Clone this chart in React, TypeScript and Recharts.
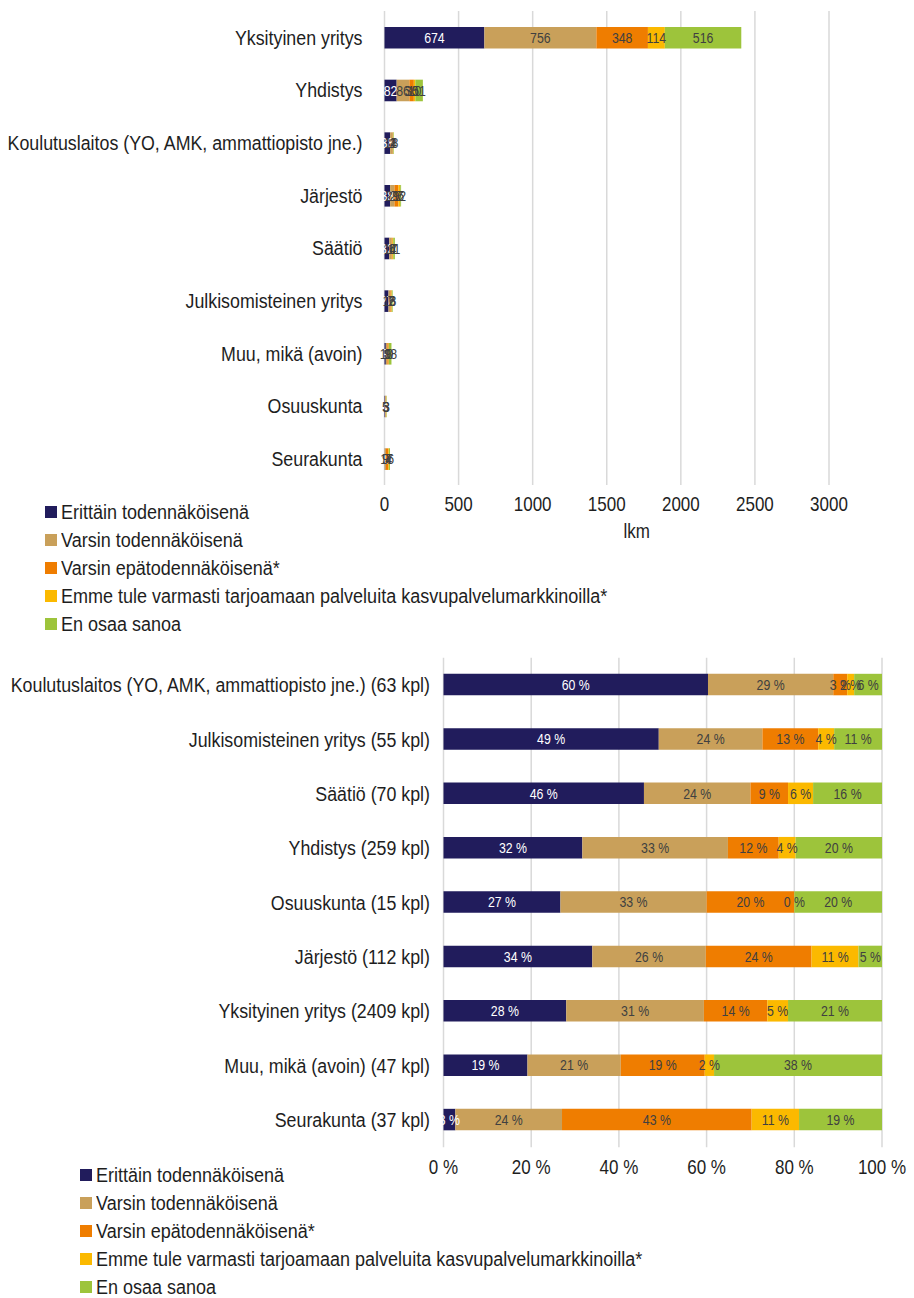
import React from 'react'
import { BarChart, Bar, XAxis, YAxis, CartesianGrid, LabelList, Legend } from 'recharts'

// Arial-metric font squeezed horizontally to get a narrow face
const FONT = "'Liberation Sans', Arial, sans-serif"
const SQUEEZE = 0.85
const TEXT = '#1e1e1e'

// organisations, in the order of the count chart
const organisations = [
  'Yksityinen yritys',
  'Yhdistys',
  'Koulutuslaitos (YO, AMK, ammattiopisto jne.)',
  'Järjestö',
  'Säätiö',
  'Julkisomisteinen yritys',
  'Muu, mikä (avoin)',
  'Osuuskunta',
  'Seurakunta',
]

// answer counts per organisation
const erittainTod = [674, 82, 38, 38, 32, 27, 9, 4, 1]
const varsinTod = [756, 86, 18, 29, 17, 13, 10, 5, 9]
const varsinEpatod = [348, 30, 2, 27, 6, 7, 9, 3, 16]
const emmeTule = [114, 10, 1, 12, 4, 2, 1, 0, 4]
const enOsaa = [516, 51, 4, 6, 11, 6, 18, 3, 7]

const seriesNames = [
  'Erittäin todennäköisenä',
  'Varsin todennäköisenä',
  'Varsin epätodennäköisenä*',
  'Emme tule varmasti tarjoamaan palveluita kasvupalvelumarkkinoilla*',
  'En osaa sanoa',
]
const seriesColors = ['#211c5c', '#c9a05a', '#ef7d00', '#fbb900', '#9dc43b']
const labelColors = ['#ffffff', '#404040', '#404040', '#404040', '#404040']

const countTicks = [0, 500, 1000, 1500, 2000, 2500, 3000]
const shareTicks = [0, 0.2, 0.4, 0.6, 0.8, 1]

// share chart: row order (indexes into organisations) and its labels
const shareOrder = [2, 5, 4, 1, 7, 3, 0, 6, 8]
const shareLabels = [
  'Koulutuslaitos (YO, AMK, ammattiopisto jne.) (63 kpl)',
  'Julkisomisteinen yritys (55 kpl)',
  'Säätiö (70 kpl)',
  'Yhdistys (259 kpl)',
  'Osuuskunta (15 kpl)',
  'Järjestö (112 kpl)',
  'Yksityinen yritys (2409 kpl)',
  'Muu, mikä (avoin) (47 kpl)',
  'Seurakunta (37 kpl)',
]

const seriesCounts = [erittainTod, varsinTod, varsinEpatod, emmeTule, enOsaa]
const keys = ['s0', 's1', 's2', 's3', 's4']

const countData = organisations.map((name, i) => {
  const row: Record<string, string | number> = { name }
  seriesCounts.forEach((arr, k) => {
    row[keys[k]] = arr[i]
  })
  return row
})

const shareData = shareOrder.map((i, r) => {
  const total = seriesCounts.reduce((sum, arr) => sum + arr[i], 0)
  const row: Record<string, string | number> = { name: shareLabels[r] }
  seriesCounts.forEach((arr, k) => {
    row[keys[k]] = arr[i] / total
  })
  return row
})

const pct = (v: number) => `${Math.round(v * 100)} %`

function NarrowText(props: any) {
  const { x, y, anchor, size, fill, dy = '0.36em', squeeze = SQUEEZE, children } = props
  return (
    <text
      transform={`translate(${x},${y}) scale(${squeeze},1)`}
      textAnchor={anchor}
      dy={dy}
      fontFamily={FONT}
      fontSize={size}
      fill={fill}
    >
      {children}
    </text>
  )
}

function CategoryTick(props: any) {
  const { x, y, payload } = props
  return (
    <NarrowText x={x} y={y} anchor="end" size={20} fill={TEXT} squeeze={0.89}>
      {payload.value}
    </NarrowText>
  )
}

function ValueTick(props: any) {
  const { x, y, payload, format } = props
  return (
    <NarrowText x={x} y={y} anchor="middle" size={20} fill={TEXT} dy="0.71em">
      {format ? format(payload.value) : payload.value}
    </NarrowText>
  )
}

function AxisTitle(props: any) {
  const { viewBox } = props
  return (
    <NarrowText x={viewBox.x + viewBox.width / 2 + 30} y={viewBox.y + 46} anchor="middle" size={20} fill={TEXT}>
      lkm
    </NarrowText>
  )
}

function segmentLabel(color: string, format: (v: number) => string) {
  return (props: any) => {
    const box = props.viewBox && props.viewBox.width !== undefined ? props.viewBox : props
    const cx = Number(box.x) + Number(box.width) / 2
    const cy = Number(box.y) + Number(box.height) / 2
    return (
      <NarrowText x={cx} y={cy} anchor="middle" size={14.5} fill={color}>
        {format(Number(props.value))}
      </NarrowText>
    )
  }
}

function LegendList(props: any) {
  const { payload } = props
  return (
    <div style={{ display: 'flex', flexDirection: 'column' }}>
      {(payload || []).map((p: any) => (
        <div
          key={p.value}
          style={{ height: 28, display: 'flex', alignItems: 'center', whiteSpace: 'nowrap' }}
        >
          <span style={{ width: 12, height: 12, background: p.color, marginRight: 4, flex: 'none' }} />
          <span
            style={{
              display: 'inline-block',
              fontFamily: FONT,
              fontSize: 20,
              color: TEXT,
              transform: 'scaleX(0.9)',
              transformOrigin: 'left center',
            }}
          >
            {p.value}
          </span>
        </div>
      ))}
    </div>
  )
}

export default function App() {
  return (
    <div style={{ position: 'absolute', left: 0, top: 0, width: 914, height: 1298, background: '#fff' }}>
      <div style={{ position: 'absolute', left: 0, top: 0 }}>
        <BarChart
          width={914}
          height={650}
          data={countData}
          layout="vertical"
          barSize={21.6}
          margin={{ top: 11, right: 85, left: 0, bottom: 105 }}
        >
          <CartesianGrid horizontal={false} stroke="#d9d9d9" strokeWidth={1.5} />
          <XAxis
            type="number"
            domain={[0, 3000]}
            ticks={countTicks}
            axisLine={false}
            tickLine={false}
            tickMargin={6}
            height={60}
            interval={0}
            tick={<ValueTick />}
            label={<AxisTitle />}
          />
          <YAxis
            type="category"
            dataKey="name"
            width={384.5}
            axisLine={false}
            tickLine={false}
            tickSize={0}
            tickMargin={22}
            interval={0}
            tick={<CategoryTick />}
          />
          <Legend
            layout="vertical"
            align="center"
            verticalAlign="middle"
            itemSorter="dataKey"
            wrapperStyle={{ left: 45, top: 498, width: 700, height: 140 }}
            content={<LegendList />}
          />
          {keys.map((k, s) => (
            <Bar key={k} dataKey={k} name={seriesNames[s]} stackId="a" fill={seriesColors[s]} isAnimationActive={false}>
              <LabelList dataKey={k} content={segmentLabel(labelColors[s], (v) => String(v))} />
            </Bar>
          ))}
        </BarChart>
      </div>

      <div style={{ position: 'absolute', left: 0, top: 640 }}>
        <BarChart
          width={914}
          height={658}
          data={shareData}
          layout="vertical"
          barSize={21.5}
          margin={{ top: 17.8, right: 32, left: 0, bottom: 90.8 }}
        >
          <CartesianGrid horizontal={false} stroke="#d9d9d9" strokeWidth={1.5} />
          <XAxis
            type="number"
            domain={[0, 1]}
            ticks={shareTicks}
            axisLine={false}
            tickLine={false}
            tickMargin={7}
            height={60}
            interval={0}
            tick={<ValueTick format={pct} />}
          />
          <YAxis
            type="category"
            dataKey="name"
            width={443.5}
            axisLine={false}
            tickLine={false}
            tickSize={0}
            tickMargin={13.5}
            interval={0}
            tick={<CategoryTick />}
          />
          <Legend
            layout="vertical"
            align="center"
            verticalAlign="middle"
            itemSorter="dataKey"
            wrapperStyle={{ left: 80, top: 521, width: 700, height: 140 }}
            content={<LegendList />}
          />
          {keys.map((k, s) => (
            <Bar
              key={k}
              dataKey={k}
              name={seriesNames[s]}
              stackId="a"
              fill={seriesColors[s]}
              minPointSize={0.1}
              isAnimationActive={false}
            >
              <LabelList dataKey={k} content={segmentLabel(labelColors[s], pct)} />
            </Bar>
          ))}
        </BarChart>
      </div>
    </div>
  )
}
